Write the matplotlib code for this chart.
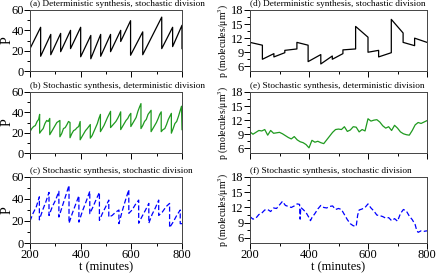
import numpy as np
import matplotlib
matplotlib.use("Agg")
import matplotlib.pyplot as plt
from matplotlib.ticker import MultipleLocator

plt.rcParams['font.family'] = ['Liberation Serif', 'DejaVu Serif']
plt.rcParams['mathtext.fontset'] = 'stix'

# (a) deterministic synthesis, stochastic division: number of proteins
a_t = [200, 242, 242, 282, 282, 321, 321, 360, 360, 400, 400, 440, 440, 479, 479,
       518, 518, 558, 558, 597, 597, 645, 645, 720, 720, 763, 763, 800, 800]
a_P = [22, 43, 14.5, 36, 16, 37, 19, 40, 22, 43, 14, 35, 12, 36, 14.5,
       36, 19, 40, 29, 49.5, 15.5, 38.5, 16, 53, 22, 43, 24, 45, 22]

# (d) concentration
d_t = [200, 242, 242, 281, 281, 318, 318, 359, 359, 397, 397, 440, 440, 479, 479,
       515, 515, 558, 558, 600, 600, 636, 636, 679, 679, 719, 719, 758, 758, 800]
d_p = [11.1, 10.5, 7.5, 8.7, 8.0, 8.9, 9.4, 9.7, 11.1, 10.5, 7.0, 8.5, 6.5, 8.2, 7.5,
       8.7, 9.5, 9.7, 14.5, 12.2, 9.0, 9.4, 8.0, 8.9, 16.0, 13.1, 11.1, 10.4, 12.0, 11.1]

# (b) stochastic synthesis, deterministic division
b_t = [200, 207, 214, 221, 228, 234, 238,
       238, 245, 252, 259, 266, 272, 278,
       278, 285, 292, 299, 306, 312, 318,
       318, 325, 332, 339, 346, 352, 358,
       358, 365, 372, 379, 386, 392, 398,
       398, 405, 412, 419, 426, 432, 438,
       438, 445, 452, 459, 466, 472, 478,
       478, 485, 492, 499, 506, 512, 518,
       518, 525, 532, 539, 546, 552, 558,
       558, 565, 572, 579, 586, 592, 598,
       598, 605, 612, 619, 626, 632, 638,
       638, 645, 652, 659, 666, 672, 678,
       678, 685, 692, 699, 706, 712, 718,
       718, 725, 732, 739, 746, 752, 758,
       758, 765, 772, 779, 786, 792, 798, 800]
b_P = [21, 24, 26, 27, 31, 33, 38,
       19.5, 22, 24, 29, 32, 31, 34,
       18, 21, 24, 27, 30, 31, 32,
       16, 19, 24, 25, 28, 31, 30,
       15, 19, 22, 23, 25, 26, 31,
       13, 16, 19, 22, 24, 26, 28,
       14.6, 17, 21, 25, 29, 34, 38,
       21, 24, 27, 31, 35, 38, 41,
       25, 27, 29, 31, 34, 37, 40.5,
       23, 26, 29, 32, 34, 37, 39,
       26, 29, 32, 35, 41, 45, 48.6,
       24, 27, 31, 33, 38, 40, 42,
       21, 24, 27, 30, 34, 38, 40.5,
       21, 23, 24, 28, 33, 36, 39,
       19.5, 24, 29, 31, 36, 41, 46, 23]

# (e) concentration
e_t = [200, 210, 220, 230, 240, 250, 260, 270, 280, 290, 300, 310, 320, 330, 340,
       350, 360, 370, 380, 390, 400, 410, 420, 430, 440, 450, 460, 470, 480, 490,
       500, 510, 520, 530, 540, 550, 560, 570, 580, 590, 600, 610, 620, 630, 640,
       650, 660, 670, 680, 690, 700, 710, 720, 730, 740, 750, 760, 770, 780, 790, 800]
e_p = [9.5, 9.0, 9.4, 9.8, 9.7, 10.0, 8.8, 9.8, 9.2, 9.3, 9.4, 9.1, 8.7, 8.3, 8.0,
       8.5, 7.8, 7.4, 7.2, 6.8, 6.1, 7.7, 7.3, 7.5, 7.2, 7.0, 7.8, 8.6, 9.4, 10.0,
       10.1, 10.0, 10.6, 9.6, 9.9, 10.6, 10.5, 9.5, 10.0, 9.7, 12.3, 11.8, 12.0, 12.1, 11.6,
       10.8, 10.3, 10.6, 9.8, 10.9, 10.3, 9.5, 9.1, 8.9, 8.8, 9.8, 11.0, 11.5, 11.3, 11.6, 11.9]

# (c) stochastic synthesis, stochastic division
c_t = [200, 212, 225, 237, 237, 250, 262, 275, 275, 288, 301, 314, 314, 327, 341, 354,
       354, 367, 380, 393, 393, 407, 422, 436, 436, 449, 462, 474, 474, 486, 499, 511,
       511, 524, 538, 551, 551, 564, 577, 590, 590, 603, 616, 629, 629, 642, 656, 669,
       669, 682, 695, 708, 708, 722, 737, 751, 751, 765, 779, 793, 793, 800]
c_P = [20, 27, 33, 42, 21, 30, 37, 46, 25, 33, 39, 47, 23.6, 33, 43, 52.4,
       18, 27, 35, 43, 19, 29, 38, 47, 26.7, 33, 40, 46, 20.6, 27, 33, 39,
       23.6, 25, 28, 30, 17.6, 29, 39, 48.5, 27, 30, 35, 39, 18, 24, 30, 36,
       18, 26, 32, 39, 25, 28, 33, 36, 14, 19, 25, 30, 17.6, 17.6]

# (f) concentration
f_t = [200, 210, 220, 230, 240, 250, 260, 270, 280, 290, 300, 310, 320, 330, 340,
       350, 360, 368, 370, 372, 380, 390, 400, 405, 410, 420, 430, 440, 450, 460,
       470, 480, 490, 500, 510, 520, 530, 540, 550, 560, 565, 570, 580, 590, 600,
       610, 620, 630, 640, 650, 660, 670, 680, 690, 700, 710, 720, 730, 740, 750,
       760, 765, 770, 780, 790, 800]
f_p = [10.2, 9.7, 9.9, 10.6, 10.9, 11.5, 11.6, 11.2, 11.9, 11.8, 12.5, 13.2, 12.4, 12.2, 12.0,
       12.3, 12.7, 12.6, 9.7, 12.0, 11.6, 11.0, 10.0, 9.4, 10.0, 10.8, 11.7, 12.4, 12.0, 11.9,
       12.2, 12.3, 11.6, 11.8, 11.6, 10.6, 9.6, 8.8, 8.4, 8.3, 10.5, 11.5, 11.7, 12.0, 12.7,
       11.9, 11.3, 10.5, 10.4, 10.2, 9.9, 10.0, 9.4, 9.8, 9.3, 10.8, 11.6, 11.3, 10.3, 9.6,
       8.6, 7.5, 7.1, 7.4, 7.3, 7.4]

titles = ['(a) Deterministic synthesis, stochastic division',
          '(b) Stochastic synthesis, deterministic division',
          '(c) Stochastic synthesis, stochastic division',
          '(d) Deterministic synthesis, stochastic division',
          '(e) Stochastic synthesis, deterministic division',
          '(f) Stochastic synthesis, stochastic division']

W, H = 436, 273
fig = plt.figure(figsize=(W/100, H/100), dpi=100)

def box(x0, y0, x1, y1):
    return [x0/W, 1-y1/H, (x1-x0)/W, (y1-y0)/H]

rows = [(10, 71), (92, 153), (177, 243)]
left_axes = [fig.add_axes(box(30, r[0], 182, r[1])) for r in rows]
right_axes = [fig.add_axes(box(250, r[0], 427, r[1])) for r in rows]

left_data = [(a_t, a_P, 'k', '-'), (b_t, b_P, '#1f9a1f', '-'), (c_t, c_P, '#0000ff', '--')]
right_data = [(d_t, d_p, 'k', '-'), (e_t, e_p, '#1f9a1f', '-'), (f_t, f_p, '#0000ff', '--')]

for i, ax in enumerate(left_axes):
    t, y, col, ls = left_data[i]
    ax.plot(t, y, color=col, ls=ls, lw=0.9, dashes=(4, 2) if ls == '--' else (None, None))
    ax.set_ylim(0, 60)
    ax.yaxis.set_major_locator(MultipleLocator(20))
    ax.yaxis.set_minor_locator(MultipleLocator(10))
    ax.set_ylabel('P', fontsize=10)
    ax.yaxis.set_label_coords(-0.11, 0.5)
    ax.text(0.0, 1.03, titles[i], transform=ax.transAxes, fontsize=6.7, va='bottom', ha='left')

for i, ax in enumerate(right_axes):
    t, y, col, ls = right_data[i]
    ax.plot(t, y, color=col, ls=ls, lw=0.9, dashes=(4, 2) if ls == '--' else (None, None))
    ax.set_ylim(5, 18)
    ax.yaxis.set_major_locator(MultipleLocator(3))
    ax.yaxis.set_minor_locator(MultipleLocator(1.5))
    ax.set_ylabel('p (molecules/μm$^{3}$)', fontsize=7)
    ax.yaxis.set_label_coords(-0.11, 0.5)
    ax.text(0.0, 1.03, titles[3+i], transform=ax.transAxes, fontsize=6.7, va='bottom', ha='left')

for j, ax in enumerate(left_axes + right_axes):
    ax.set_xlim(200, 800)
    ax.xaxis.set_major_locator(MultipleLocator(200))
    ax.xaxis.set_minor_locator(MultipleLocator(100))
    ax.tick_params(which='major', direction='out', length=4, width=0.7, labelsize=9, pad=0.5)
    ax.tick_params(which='minor', direction='out', length=2, width=0.7)
    for s in ax.spines.values():
        s.set_linewidth(0.7)
        s.set_color('#444444')
    if j % 3 != 2:
        ax.tick_params(labelbottom=False)
    else:
        ax.set_xlabel('t (minutes)', fontsize=9)
        ax.xaxis.set_label_coords(0.5, -0.275)

fig.savefig('out.png', dpi=100)
